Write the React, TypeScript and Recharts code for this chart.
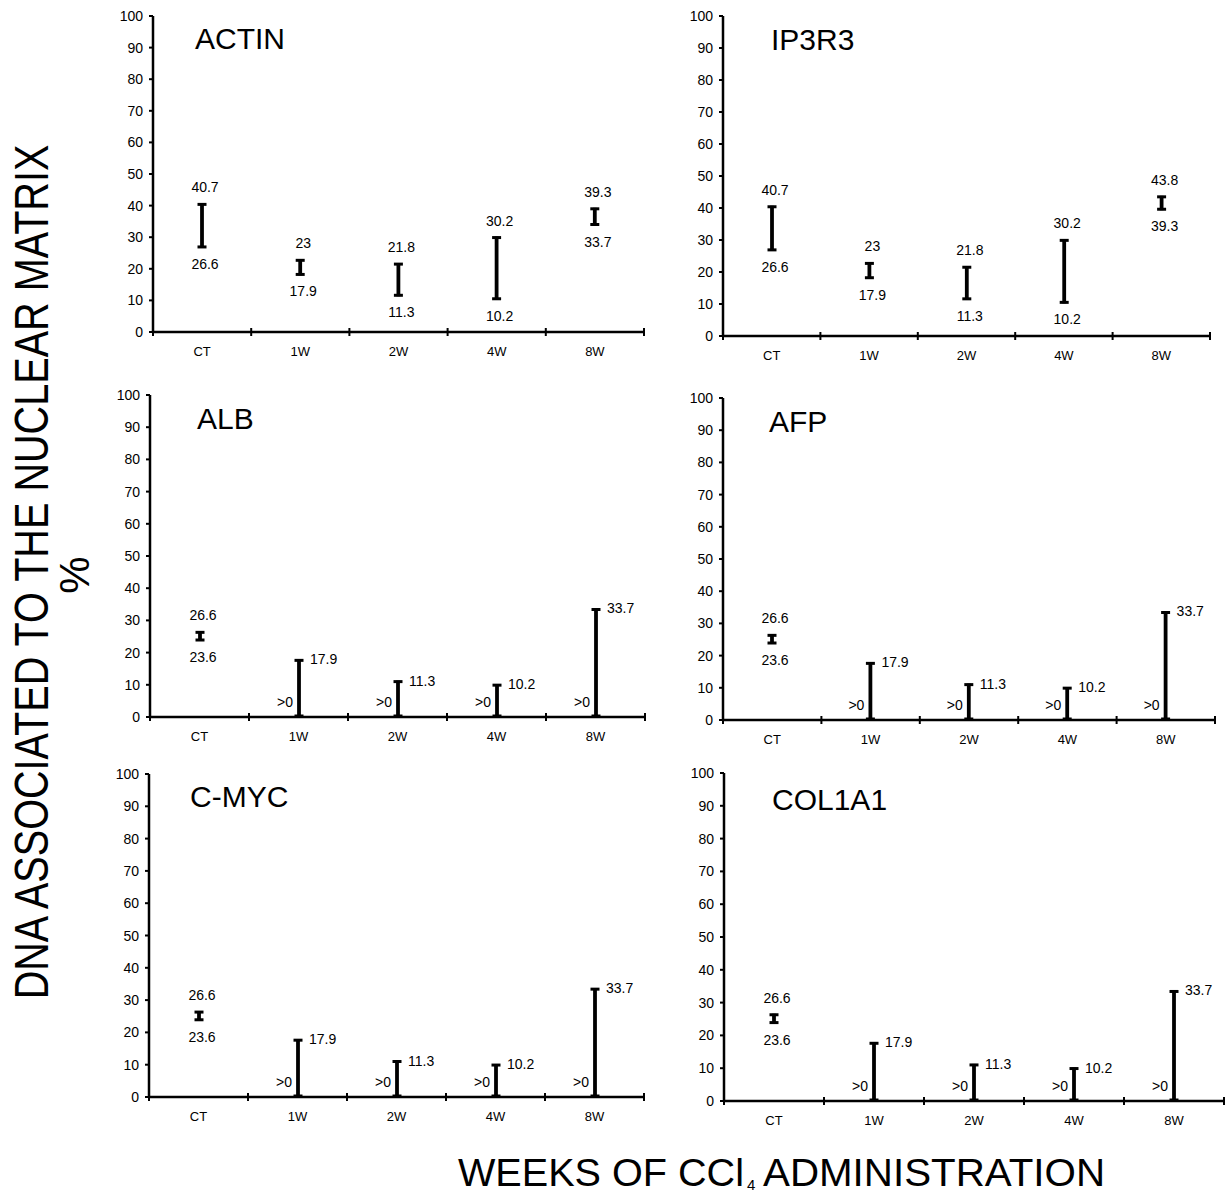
import React from 'react';
import { ComposedChart, Bar, XAxis, YAxis } from 'recharts';

const categories = ['CT', '1W', '2W', '4W', '8W'];
const yTicks = [0, 10, 20, 30, 40, 50, 60, 70, 80, 90, 100];

const actinLow = [26.6, 17.9, 11.3, 10.2, 33.7];
const actinHigh = [40.7, 23, 21.8, 30.2, 39.3];
const ip3r3Low = [26.6, 17.9, 11.3, 10.2, 39.3];
const ip3r3High = [40.7, 23, 21.8, 30.2, 43.8];
const albLow = [23.6, 0, 0, 0, 0];
const albHigh = [26.6, 17.9, 11.3, 10.2, 33.7];
const afpLow = [23.6, 0, 0, 0, 0];
const afpHigh = [26.6, 17.9, 11.3, 10.2, 33.7];
const cmycLow = [23.6, 0, 0, 0, 0];
const cmycHigh = [26.6, 17.9, 11.3, 10.2, 33.7];
const col1a1Low = [23.6, 0, 0, 0, 0];
const col1a1High = [26.6, 17.9, 11.3, 10.2, 33.7];

const FONT = 'Liberation Sans, Arial, Helvetica, sans-serif';

const panels = [
  { title: 'ACTIN', low: actinLow, high: actinHigh, x0: 153, x1: 644, yTop: 16, yBottom: 332, tx: 195, ty: 49 },
  { title: 'IP3R3', low: ip3r3Low, high: ip3r3High, x0: 723, x1: 1210, yTop: 16, yBottom: 336, tx: 771, ty: 50 },
  { title: 'ALB', low: albLow, high: albHigh, x0: 150, x1: 645, yTop: 395, yBottom: 717, tx: 197, ty: 429 },
  { title: 'AFP', low: afpLow, high: afpHigh, x0: 723, x1: 1215, yTop: 398, yBottom: 720, tx: 769, ty: 432 },
  { title: 'C-MYC', low: cmycLow, high: cmycHigh, x0: 149, x1: 644, yTop: 774, yBottom: 1097, tx: 190, ty: 807 },
  { title: 'COL1A1', low: col1a1Low, high: col1a1High, x0: 724, x1: 1224, yTop: 773, yBottom: 1101, tx: 772, ty: 810 },
];

const RangeShape = (props: any) => {
  const { x, y, width, height, payload } = props;
  if (x == null || y == null) return null;
  const cx = x + width / 2;
  const top = Math.min(y, y + height);
  const bottom = Math.max(y, y + height);
  const stem = payload.lo === 0;
  return (
    <g>
      <line x1={cx} x2={cx} y1={top} y2={bottom} stroke="#000" strokeWidth={3.8} />
      <line x1={cx - 4.5} x2={cx + 4.5} y1={top + 1} y2={top + 1} stroke="#000" strokeWidth={3} />
      <line x1={cx - 4.5} x2={cx + 4.5} y1={bottom - 1} y2={bottom - 1} stroke="#000" strokeWidth={3} />
      {stem ? (
        <g fontFamily={FONT} fontSize={14} fill="#000">
          <text x={cx - 6} y={bottom - 10} textAnchor="end">&gt;0</text>
          <text x={cx + 11} y={top + 5} textAnchor="start">{String(payload.hi)}</text>
        </g>
      ) : (
        <g fontFamily={FONT} fontSize={14} fill="#000">
          <text x={cx + 3} y={top - 11} textAnchor="middle">{String(payload.hi)}</text>
          <text x={cx + 3} y={bottom + 21} textAnchor="middle">{String(payload.lo)}</text>
        </g>
      )}
    </g>
  );
};

const XTick = (props: any) => {
  const { x, y, payload, half, count } = props;
  const idx = payload.index;
  return (
    <g>
      <line x1={x - half} x2={x - half} y1={y - 4} y2={y + 4} stroke="#000" strokeWidth={2} />
      {idx === count - 1 && (
        <line x1={x + half} x2={x + half} y1={y - 4} y2={y + 4} stroke="#000" strokeWidth={2} />
      )}
      <text x={x} y={y + 24} textAnchor="middle" fontFamily={FONT} fontSize={13} fill="#000">
        {payload.value}
      </text>
    </g>
  );
};

const YTick = (props: any) => {
  const { x, y, payload } = props;
  return (
    <g>
      <line x1={x - 4} x2={x} y1={y} y2={y} stroke="#000" strokeWidth={2} />
      <text x={x - 10} y={y} dy="0.36em" textAnchor="end" fontFamily={FONT} fontSize={14} fill="#000">
        {payload.value}
      </text>
    </g>
  );
};

const ML = 60;
const MT = 12;
const MR = 12;
const XH = 40;

const Panel = ({ p }: { p: any }) => {
  const w = p.x1 - p.x0 + ML + MR;
  const h = p.yBottom - p.yTop + MT + XH;
  const data = categories.map((c, i) => ({ cat: c, lo: p.low[i], hi: p.high[i], range: [p.low[i], p.high[i]] }));
  const half = (p.x1 - p.x0) / categories.length / 2;
  return (
    <div style={{ position: 'absolute', left: p.x0 - ML, top: p.yTop - MT }}>
      <ComposedChart width={w} height={h} data={data} margin={{ top: MT, right: MR, left: 0, bottom: 0 }}>
        <XAxis
          dataKey="cat"
          interval={0}
          tickLine={false}
          tickSize={0}
          tickMargin={0}
          height={XH}
          axisLine={{ stroke: '#000', strokeWidth: 2.5 }}
          tick={(tp: any) => <XTick {...tp} half={half} count={categories.length} />}
        />
        <YAxis
          type="number"
          domain={[0, 100]}
          ticks={yTicks}
          interval={0}
          width={ML}
          tickLine={false}
          tickSize={0}
          tickMargin={0}
          allowDataOverflow
          axisLine={{ stroke: '#000', strokeWidth: 2.5 }}
          tick={(tp: any) => <YTick {...tp} />}
        />
        <Bar dataKey="range" barSize={10} isAnimationActive={false} shape={(bp: any) => <RangeShape {...bp} />} />
      </ComposedChart>
    </div>
  );
};

export default function App() {
  return (
    <div style={{ position: 'absolute', left: 0, top: 0, width: 1226, height: 1194, background: '#fff', overflow: 'hidden' }}>
      {panels.map((p) => (
        <Panel key={p.title} p={p} />
      ))}
      <svg width={1226} height={1194} style={{ position: 'absolute', left: 0, top: 0, pointerEvents: 'none' }}>
        {panels.map((p) => (
          <text key={p.title} x={p.tx} y={p.ty} fontFamily={FONT} fontSize={30} fill="#000">
            {p.title}
          </text>
        ))}
        <text
          x={0}
          y={0}
          transform="translate(48 572) rotate(-90) scale(0.814 1)"
          textAnchor="middle"
          fontFamily={FONT}
          fontSize={48}
          textLength={1050}
          lengthAdjust="spacingAndGlyphs"
          fill="#000"
        >
          DNA ASSOCIATED TO THE NUCLEAR MATRIX
        </text>
        <text x={89} y={575} transform="rotate(-90 89 575)" textAnchor="middle" fontFamily={FONT} fontSize={42} fill="#000">
          %
        </text>
        <text x={458} y={1186} fontFamily={FONT} fontSize={39} textLength={286} lengthAdjust="spacingAndGlyphs" fill="#000">
          WEEKS OF CCl
        </text>
        <text x={747} y={1190} fontFamily={FONT} fontSize={15} fill="#000">
          4
        </text>
        <text x={763} y={1186} fontFamily={FONT} fontSize={39} textLength={342} lengthAdjust="spacingAndGlyphs" fill="#000">
          ADMINISTRATION
        </text>
      </svg>
    </div>
  );
}
